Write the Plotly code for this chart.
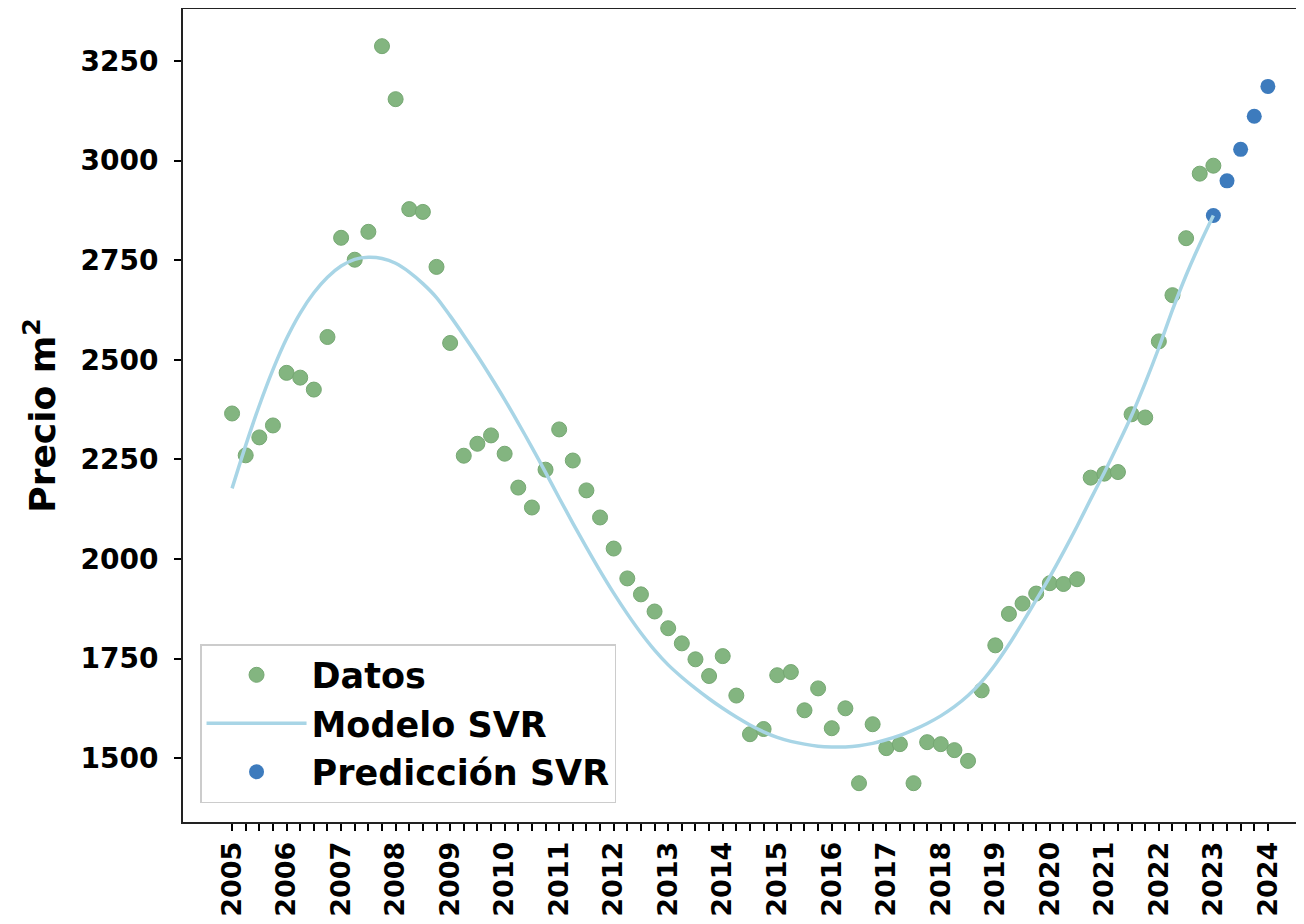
import plotly.graph_objects as go

# ---- data ----
years = list(range(2005, 2025))
quarters = [f"{y}-T{q}" for y in years for q in (1, 2, 3, 4)][:77]   # 2005-T1 .. 2024-T1

datos = [
    2365, 2260, 2305, 2335,
    2467, 2455, 2425, 2557,
    2806, 2751, 2821, 3287,
    3154, 2878, 2871, 2733,
    2542, 2259, 2289, 2310,
    2264, 2179, 2129, 2224,
    2325, 2247, 2172, 2104,
    2026, 1951, 1911, 1868,
    1826, 1788, 1748, 1706,
    1756, 1657, 1560, 1573,
    1708, 1716, 1620, 1675,
    1575, 1625, 1437, 1585,
    1525, 1535, 1437, 1540,
    1535, 1520, 1493, 1670,
    1783, 1862, 1888, 1913,
    1939, 1937, 1949, 2204,
    2214, 2218, 2363, 2355,
    2546, 2662, 2805, 2967,
    2987,
]

modelo = [
    2177, 2285, 2385, 2475,
    2553, 2617, 2668, 2707,
    2735, 2752, 2757, 2754,
    2742, 2720, 2691, 2656,
    2610, 2561, 2510, 2456,
    2400, 2341, 2280, 2217,
    2153, 2090, 2029, 1970,
    1914, 1862, 1814, 1771,
    1734, 1703, 1675, 1649,
    1625, 1603, 1583, 1566,
    1552, 1542, 1535, 1530,
    1528, 1528, 1531, 1537,
    1546, 1557, 1571, 1587,
    1606, 1629, 1657, 1692,
    1735, 1785, 1840, 1897,
    1955, 2017, 2082, 2150,
    2217, 2287, 2360, 2442,
    2530, 2625, 2712, 2790,
    2862,
]

prediccion = [2862, 2949, 3028, 3111, 3186]

x_datos = quarters[:len(datos)]
x_pred = quarters[len(datos) - 1:len(datos) - 1 + len(prediccion)]

tick_text = [q[:4] if q.endswith("T1") else "" for q in quarters]
y_ticks = [1500, 1750, 2000, 2250, 2500, 2750, 3000, 3250]

FONT = "DejaVu Sans"

fig = go.Figure()
fig.add_trace(go.Scatter(
    x=x_datos, y=datos, mode="markers", name="Datos", legendrank=1,
    marker=dict(size=15, color="#83b580", line=dict(width=1, color="#76a873")),
))
fig.add_trace(go.Scatter(
    x=x_pred, y=prediccion, mode="markers", name="Predicción SVR", legendrank=3,
    marker=dict(size=15, color="#3d7bbd", line=dict(width=0)),
))
fig.add_trace(go.Scatter(
    x=x_datos, y=modelo, mode="lines", name="Modelo SVR", legendrank=2,
    line=dict(color="#a8d5e6", width=3.5, shape="spline", smoothing=0.8),
))

# page body has an 8px margin, so the figure is 8px smaller and shifted
fig.update_layout(
    width=1296, height=916,
    margin=dict(l=175, r=0, t=1, b=102, autoexpand=False),
    paper_bgcolor="white", plot_bgcolor="white",
    font=dict(family=FONT, color="black"),
    showlegend=True,
    legend=dict(
        x=0.0152, y=0.0233, xanchor="left", yanchor="bottom",
        bgcolor="rgba(255,255,255,0.8)", bordercolor="#cccccc", borderwidth=1.5,
        font=dict(family=FONT, size=35, color="black", weight="bold"),
        itemwidth=100, tracegroupgap=0,
    ),
)

fig.update_xaxes(
    type="category", categoryorder="array", categoryarray=quarters,
    range=[-3.6, 78.65], automargin=False,
    tickmode="array", tickvals=quarters, ticktext=tick_text,
    tickangle=-90,
    ticks="outside", ticklen=7, tickwidth=1.5, tickcolor="black",
    tickfont=dict(family=FONT, size=27, color="black", weight="bold"),
    showline=True, linecolor="#222222", linewidth=1.8, mirror=True,
    showgrid=False, zeroline=False,
)
fig.update_yaxes(
    range=[1339.6, 3380.3], automargin=False,
    tickmode="array", tickvals=y_ticks,
    ticks="outside", ticklen=7, tickwidth=1.5, tickcolor="black",
    tickfont=dict(family=FONT, size=28, color="black", weight="bold"),
    ticklabelstandoff=10,
    showline=True, linecolor="#222222", linewidth=1.8, mirror=False,
    showgrid=False, zeroline=False,
    title=dict(text="Precio m<sup>2</sup>", standoff=14,
               font=dict(family=FONT, size=36, color="black", weight="bold")),
)

fig.write_html("out.html")
